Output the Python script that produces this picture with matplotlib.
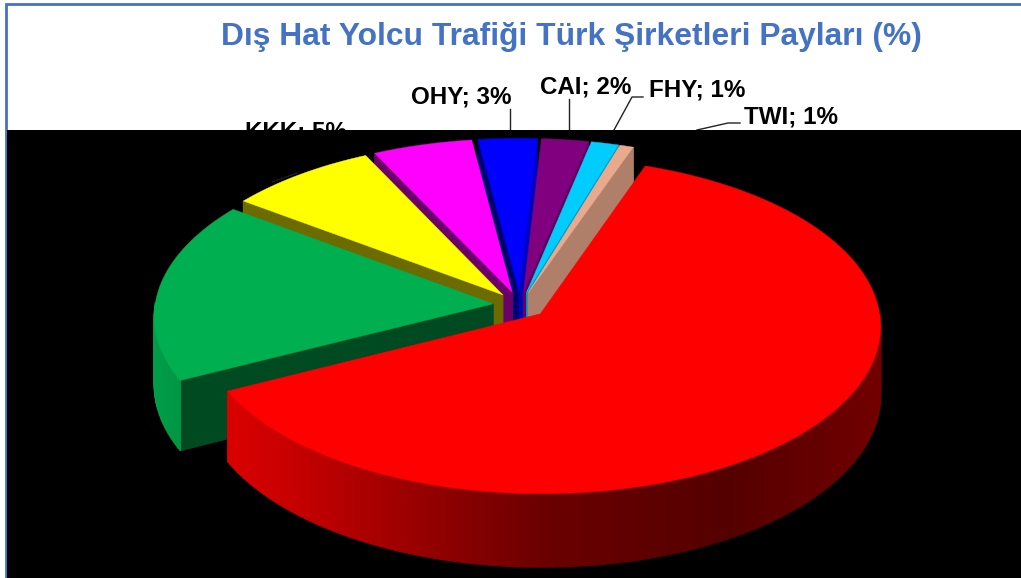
import numpy as np
import matplotlib
matplotlib.use('Agg')
from matplotlib import pyplot as plt
from matplotlib.patches import Polygon, Rectangle

plt.rcParams['font.family'] = ['Liberation Sans', 'DejaVu Sans']

# Slice sizes as they look in the picture, clockwise from the red one
carriers = ['THY', 'PGT', 'KKK', 'SXS', 'OHY', 'CAI', 'FHY', 'TWI']
shares = [62.2, 17.5, 7.7, 5.1, 3.0, 2.4, 1.4, 0.7]
colors = ['#FF0000', '#00B050', '#FFFF00', '#FF00FF', '#0000FF', '#800080', '#00CCFF', '#E9A98C']

# Labels printed on the chart
labels = ['KKK; 5%', 'OHY; 3%', 'CAI; 2%', 'FHY; 1%', 'TWI; 1%']
title = 'Dış Hat Yolcu Trafiği Türk Şirketleri Payları (%)'

# Pie geometry in pixels
cx, cy = 520, 305
rx, ry = 338, 166
depth = 68
tilt = 0.07
explode = 0.08
start = 19.5


def project(u, v, z=0):
    s = 1 / (1 - tilt * np.asarray(v))
    return np.column_stack([cx + rx * np.asarray(u) * s, cy + (ry * np.asarray(v) + depth * np.asarray(z)) * s])


def shade(color, f):
    return tuple(c * f for c in matplotlib.colors.to_rgb(color))


def wall(u, v, color, z):
    top = project(u, v)
    bottom = project(u, v, np.ones(len(u)))
    ax.add_patch(Polygon(np.vstack([top, bottom[::-1]]), closed=True, facecolor=color, edgecolor=color, lw=0.9, zorder=z))


fig = plt.figure(figsize=(10.21, 5.78), dpi=100)
ax = fig.add_axes([0, 0, 1, 1])
ax.set_xlim(0, 1021)
ax.set_ylim(578, 0)
ax.axis('off')

# Frame and the black panel, which covers the lower part of the labels
ax.add_patch(Rectangle((6, 4), 1030, 600, facecolor='white', edgecolor='#4472C4', lw=2, zorder=1))
ax.add_patch(Rectangle((7, 130), 1014, 448, facecolor='black', edgecolor='none', zorder=3))

ax.text(571, 37, title, color='#4472C4', fontsize=22.9, fontweight='bold', ha='center', va='center', zorder=2)
ax.text(296, 132, labels[0], fontsize=17.4, fontweight='bold', ha='center', va='center', zorder=2)
ax.text(461, 97, labels[1], fontsize=17.4, fontweight='bold', ha='center', va='center', zorder=2)
ax.text(586, 87, labels[2], fontsize=17.4, fontweight='bold', ha='center', va='center', zorder=2)
ax.text(697, 90, labels[3], fontsize=17.4, fontweight='bold', ha='center', va='center', zorder=2)
ax.text(791, 117, labels[4], fontsize=17.4, fontweight='bold', ha='center', va='center', zorder=2)

# Leader lines
ax.plot([510, 510], [109, 130], color='#222222', lw=1, zorder=2)
ax.plot([569, 569], [99, 130], color='#222222', lw=1, zorder=2)
ax.plot([643, 632, 614], [97, 97, 130], color='#222222', lw=1, zorder=2)
ax.plot([740, 728, 697], [123, 123, 130], color='#222222', lw=1, zorder=2)

# Slices, back to front
edges = start + np.cumsum([0] + shares) * 3.6
mids = (edges[:-1] + edges[1:]) / 2
order = sorted(range(len(shares)), key=lambda i: -np.cos(np.radians(mids[i])))

for n, i in enumerate(order):
    z = 5 + n
    t0, t1 = np.radians(edges[i]), np.radians(edges[i + 1])
    mid = np.radians(mids[i])
    ox, oy = explode * np.sin(mid), -explode * np.cos(mid)
    t = np.linspace(t0, t1, max(int(np.degrees(t1 - t0)), 2) + 1)
    u = ox + np.sin(t)
    v = oy - np.cos(t)

    # Cut faces that look towards the viewer
    if np.sin(t0) < 0:
        wall(np.array([ox, u[0]]), np.array([oy, v[0]]), shade(colors[i], 0.42), z)
    if np.sin(t1) > 0:
        wall(np.array([ox, u[-1]]), np.array([oy, v[-1]]), shade(colors[i], 0.75), z)

    # Rim, lit from the left
    for a, b, ua, ub, va, vb in zip(t[:-1], t[1:], u[:-1], u[1:], v[:-1], v[1:]):
        tm = (a + b) / 2
        if -np.cos(tm) > 0:
            f = np.interp(np.sin(tm), [-1, -0.7, 0.0, 0.5, 1], [0.9, 0.78, 0.42, 0.33, 0.45])
            wall(np.array([ua, ub]), np.array([va, vb]), shade(colors[i], f), z)

    top = project(np.r_[ox, u], np.r_[oy, v])
    ax.add_patch(Polygon(top, closed=True, facecolor=colors[i], edgecolor=colors[i], lw=0.3, zorder=z))

# Tail of the KKK leader where it crosses the yellow slice
ax.plot([297, 272], [173, 182], color='#222222', lw=0.8, zorder=20)

fig.savefig('out.png', dpi=100)
